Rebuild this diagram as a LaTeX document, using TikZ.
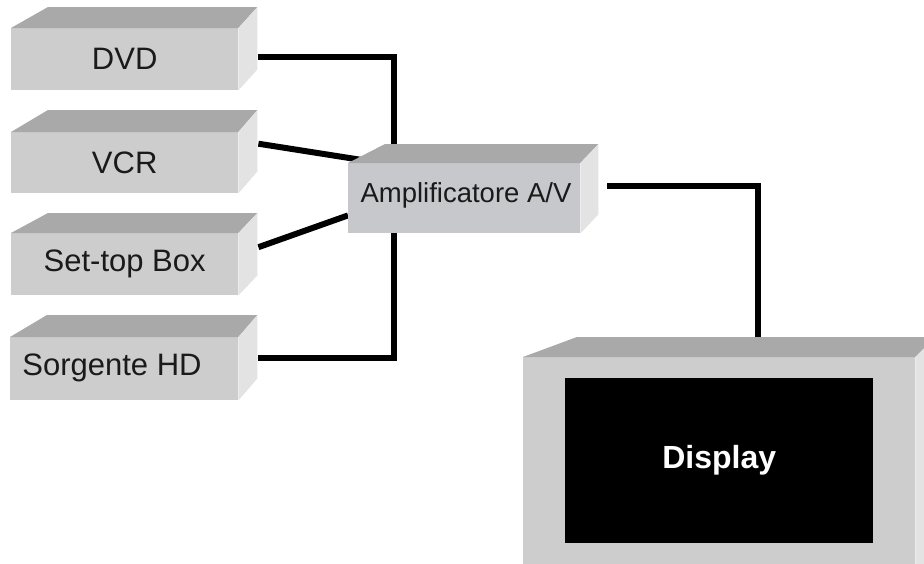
\documentclass[tikz,border=0pt]{standalone}
\usepackage{fontspec}
\setmainfont{Liberation Sans}
\usetikzlibrary{backgrounds}
\definecolor{frontc}{HTML}{CDCDCD}
\definecolor{ampfront}{HTML}{C6C8CC}
\definecolor{topc}{HTML}{A9A9A9}
\definecolor{sidec}{HTML}{E3E3E3}
\definecolor{labc}{HTML}{1A1A1A}
\tikzset{
  front/.style={fill=frontc, draw=none, anchor=north west, inner sep=0pt,
    font=\fontsize{31}{32}\selectfont, text=labc},
  topface/.style={fill=topc},
  sideface/.style={fill=sidec},
  wire/.style={line width=6pt, black, line cap=butt, line join=miter},
}
\newcommand\boxfaces[4]{%
  \fill[topface] (#1.north west) -- ++(#2,-#4) -- ([shift={(#3,-#4)}]#1.north east) -- (#1.north east) -- cycle;
  \fill[sideface] (#1.north east) -- ++(#3,-#4) -- ([shift={(#3,-#4)}]#1.south east) -- (#1.south east) -- cycle;
}
\begin{document}
\begin{tikzpicture}[x=1pt,y=-1pt]
\useasboundingbox (0,0) rectangle (924,563);
% source boxes
\node[front, minimum width=227pt, minimum height=62pt] (dvd) at (11,28) {DVD};
\boxfaces{dvd}{37}{19}{21}
\node[front, minimum width=227pt, minimum height=61pt] (vcr) at (11,132) {VCR};
\boxfaces{vcr}{37}{19}{22}
\node[front, minimum width=227pt, minimum height=62pt] (stb) at (11,233) {Set-top Box};
\boxfaces{stb}{37}{19}{20}
\node[front, minimum width=228pt, minimum height=63pt] (sorg) at (10,337) {};
\boxfaces{sorg}{37}{19}{22}
\node[font=\fontsize{31}{32}\selectfont, text=labc, inner sep=0pt] (sorgtxt) at (112,368) {Sorgente HD};
% amplifier
\node[front, fill=ampfront, minimum width=232pt, minimum height=70pt] (amp) at (348,163) {};
\boxfaces{amp}{37}{18}{19}
\node[font=\fontsize{27.5}{29}\selectfont, text=labc, inner sep=0pt] (amptxt) at (466,195) {Amplificatore A/V};
% display
\node[front, minimum width=392pt, minimum height=230pt] (disp) at (523,357) {};
\boxfaces{disp}{54}{20}{20}
\node[fill=black, anchor=north west, inner sep=0pt, minimum width=308pt, minimum height=165pt,
  text=white, font=\bfseries\fontsize{32}{34}\selectfont] (screen) at (565,378) {Display};
% connectors
\begin{pgfonlayer}{background}
\fill[white] (0,0) rectangle (924,563);
\draw[wire] ([shift={(20,-2)}]dvd.east) -| ([xshift=46pt]amp.north west);
\draw[wire] ([shift={(20,-19)}]vcr.east) -- ([shift={(14,-3)}]amp.north west);
\draw[wire] ([shift={(20,-17)}]stb.east) -- ([yshift=18pt]amp.south west);
\draw[wire] ([xshift=46pt]amp.south west) |- ([shift={(20,-11)}]sorg.east);
\draw[wire] ([shift={(27,-12)}]amp.east) -| ([xshift=39pt]disp.north);
\end{pgfonlayer}
\end{tikzpicture}
\end{document}
